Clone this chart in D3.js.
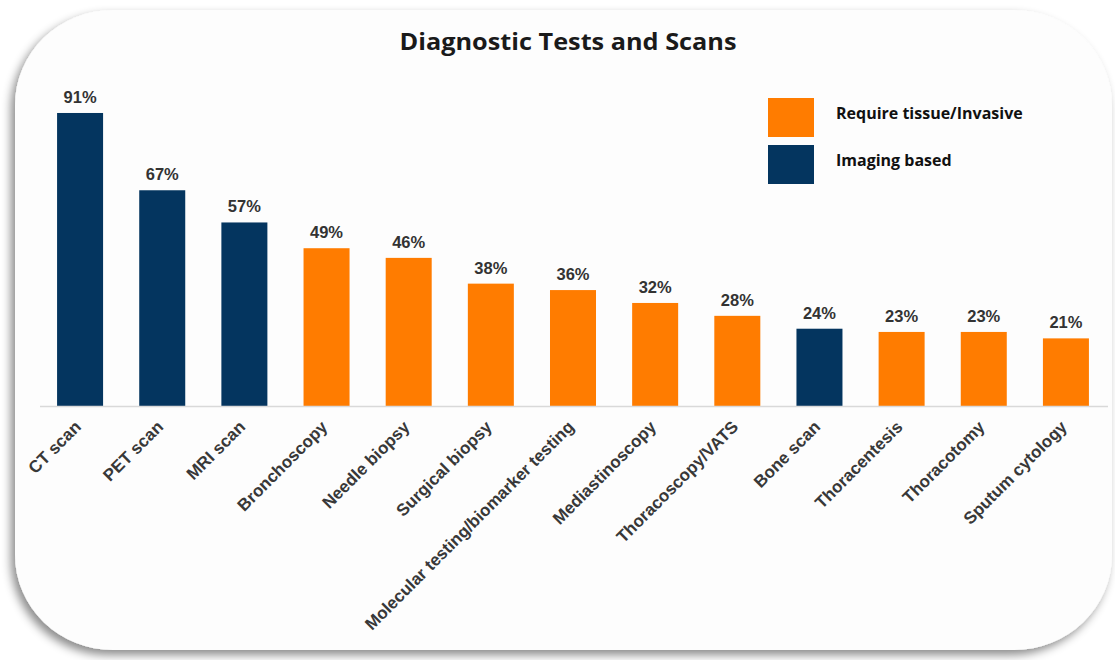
<!DOCTYPE html>
<html><head><meta charset="utf-8">
<script src="https://cdn.jsdelivr.net/npm/d3@7"></script>
<style>body{margin:0;background:#fff;}svg{display:block;}</style>
</head><body>
<svg id="chart" width="1115" height="660"></svg>
<script>
const categories = ["CT scan","PET scan","MRI scan","Bronchoscopy","Needle biopsy","Surgical biopsy","Molecular testing/biomarker testing","Mediastinoscopy","Thoracoscopy/VATS","Bone scan","Thoracentesis","Thoracotomy","Sputum cytology"];
const values = [91,67,57,49,46,38,36,32,28,24,23,23,21];
const groups = ["Imaging based","Imaging based","Imaging based","Require tissue/Invasive","Require tissue/Invasive","Require tissue/Invasive","Require tissue/Invasive","Require tissue/Invasive","Require tissue/Invasive","Imaging based","Require tissue/Invasive","Require tissue/Invasive","Require tissue/Invasive"];
const legendLabels = ["Require tissue/Invasive","Imaging based"];
const colors = ["#ff7c00","#04355f"];

const svg = d3.select("#chart");
const defs = svg.append("defs");
const f = defs.append("filter").attr("id","sh").attr("x","-10%").attr("y","-10%").attr("width","120%").attr("height","125%");
f.append("feDropShadow").attr("dx",-4).attr("dy",5).attr("stdDeviation",5).attr("flood-color","#000").attr("flood-opacity",0.45);

svg.append("rect").attr("x",15).attr("y",10).attr("width",1097).attr("height",640)
  .attr("rx",98).attr("ry",95).attr("fill","#fdfdfd").attr("filter","url(#sh)");

const color = d3.scaleOrdinal().domain(legendLabels).range(colors);
const x = d3.scaleBand().domain(categories).range([39,1107]).paddingInner(0.44).paddingOuter(0.22);
const y = d3.scaleLinear().domain([0,100]).range([406,84]);

const data = categories.map((c,i)=>({c, v:values[i], g:groups[i]}));

svg.append("text").attr("x",568).attr("y",50).attr("text-anchor","middle")
  .attr("font-family","'Open Sans', Lato, sans-serif").attr("font-weight","bold").attr("font-size",23.5)
  .attr("textLength",337).attr("lengthAdjust","spacingAndGlyphs")
  .attr("fill","#1a1a1a").text("Diagnostic Tests and Scans");

svg.append("g").selectAll("rect").data(data).join("rect")
  .attr("x",d=>x(d.c)).attr("width",x.bandwidth())
  .attr("y",d=>y(d.v)).attr("height",d=>y(0)-y(d.v)).attr("fill",d=>color(d.g));

svg.append("g").selectAll("text").data(data).join("text")
  .attr("x",d=>x(d.c)+x.bandwidth()/2).attr("y",d=>y(d.v)-10).attr("text-anchor","middle")
  .attr("font-family","Liberation Sans, Arial, sans-serif").attr("font-size",16.5).attr("font-weight","bold")
  .attr("fill","#333").text(d=>d.v+"%");

const ax = svg.append("g").attr("transform","translate(0,406)")
  .call(d3.axisBottom(x).tickSize(0).tickSizeOuter(0));
ax.select(".domain").attr("stroke","#d9d9d9").attr("stroke-width",1.5).attr("d","M40,0.5H1108");
ax.selectAll(".tick text")
  .attr("font-family","Liberation Sans, Arial, sans-serif").attr("font-size",17).attr("font-weight","bold")
  .attr("fill","#383838").attr("text-anchor","end")
  .attr("dy",0).attr("y",0)
  .attr("transform","translate(2,22) rotate(-45)");

const leg = svg.append("g");
legendLabels.forEach((l,i)=>{
  leg.append("rect").attr("x",768).attr("y",98+i*47).attr("width",46).attr("height",39).attr("fill",colors[i]);
  leg.append("text").attr("x",836).attr("y",119+i*47).attr("font-family","'Open Sans', Lato, sans-serif")
    .attr("font-weight","bold").attr("font-size",16).attr("fill","#111").text(l);
});
</script>
</body></html>
